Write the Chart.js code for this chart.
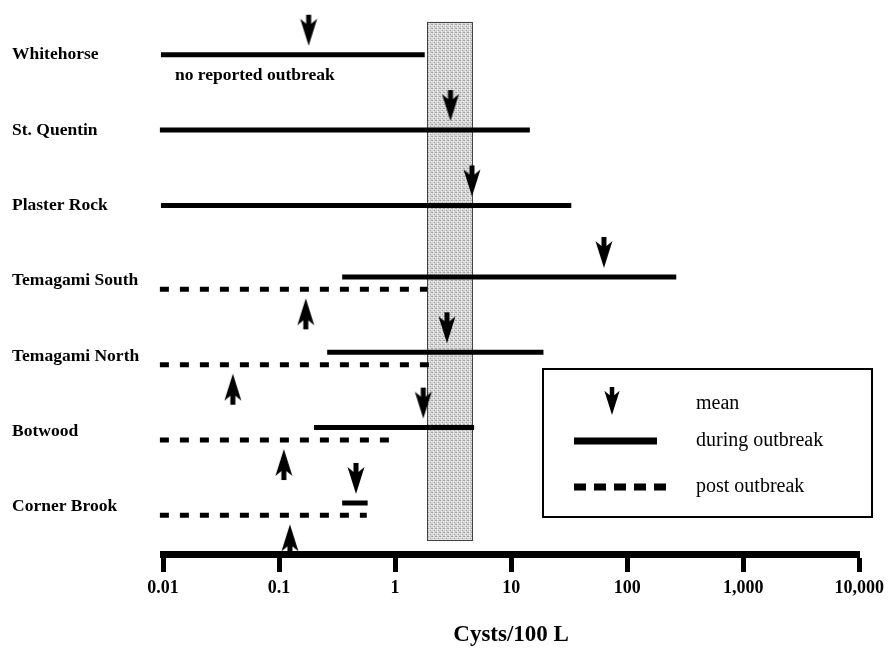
<!DOCTYPE html>
<html>
<head>
<meta charset="utf-8">
<script src="https://cdn.jsdelivr.net/npm/chart.js"></script>
<style>
  html, body { margin: 0; padding: 0; background: #fff; }
</style>
</head>
<body>
<canvas id="cystChart" width="890" height="653"></canvas>
<script type="text/javascript">

// sites, top to bottom
const sites = ['Whitehorse', 'St. Quentin', 'Plaster Rock', 'Temagami South', 'Temagami North', 'Botwood', 'Corner Brook'];

// during outbreak range and mean (cysts/100 L)
const duringLow  = [0.0096, 0.0094, 0.0096, 0.35, 0.26, 0.20, 0.35];
const duringHigh = [1.8, 14.5, 33, 265, 19, 4.8, 0.58];
const duringMean = [0.18, 3.0, 4.6, 63, 2.8, 1.75, 0.46];

// post outbreak range and mean
const postLow  = [null, null, null, 0.0094, 0.0094, 0.0094, 0.0094];
const postHigh = [null, null, null, 1.9, 2.4, 0.93, 0.57];
const postMean = [null, null, null, 0.17, 0.04, 0.11, 0.124];

const notes = ['no reported outbreak', null, null, null, null, null, null];

// shaded band
const bandRange = [1.9, 4.6];

// x axis
const tickVals = [0.01, 0.1, 1, 10, 100, 1000, 10000];
const tickLabels = ['0.01', '0.1', '1', '10', '100', '1,000', '10,000'];

const legendLabels = ['mean', 'during outbreak', 'post outbreak'];

const SERIF = '"Liberation Serif", "Times New Roman", serif';
const ARROW_LEN = 31;
const ARROW_GAP = 9;
const SOLID_SHIFT = -0.05;   // solid line sits a little above the row when a dashed line is there
const DASH_SHIFT = 0.115;

function solidShift(i) { return postLow[i] == null ? 0 : SOLID_SHIFT; }

function drawArrow(g, x, tipY, dir, s) {
    s = s || 1;
    const p = (dx, dy) => [x + dx * s, tipY - dir * dy * s];
    const pts = [p(0, 0), p(-8.5, 27), p(-2.5, 22), p(-2.5, 31), p(2.5, 31), p(2.5, 22), p(8.5, 27)];
    g.beginPath();
    g.moveTo(pts[0][0], pts[0][1]);
    for (let k = 1; k < pts.length; k++) g.lineTo(pts[k][0], pts[k][1]);
    g.closePath();
    g.fillStyle = '#000';
    g.fill();
}

// arrow image, centred on the line it points at
function makeArrow(dir) {
    const c = document.createElement('canvas');
    const h = 2 * (ARROW_LEN + ARROW_GAP) + 2;
    c.width = 20;
    c.height = h;
    drawArrow(c.getContext('2d'), 10, h / 2 - dir * ARROW_GAP, dir);
    return c;
}

function rangePoints(lo, hi, shift) {
    const pts = [];
    sites.forEach((s, i) => {
        if (lo[i] == null) return;
        const y = i + shift(i);
        pts.push({x: lo[i], y: y}, {x: hi[i], y: y}, {x: hi[i], y: null});
    });
    return pts;
}

function meanPoints(mean, shift) {
    const pts = [];
    sites.forEach((s, i) => {
        if (mean[i] == null) return;
        pts.push({x: mean[i], y: i + shift(i)});
    });
    return pts;
}

function bandPattern() {
    const c = document.createElement('canvas');
    c.width = 4; c.height = 4;
    const g = c.getContext('2d');
    g.fillStyle = '#d4d4d4'; g.fillRect(0, 0, 4, 4);
    g.fillStyle = '#a4a4a4';
    g.fillRect(0, 0, 1, 1); g.fillRect(2, 2, 1, 1); g.fillRect(3, 0, 1, 1);
    g.fillStyle = '#efefef';
    g.fillRect(1, 3, 1, 1); g.fillRect(3, 1, 1, 1); g.fillRect(1, 1, 1, 1);
    return c;
}

const bandPlugin = {
    id: 'band',
    beforeDatasetsDraw(chart) {
        const {ctx, scales: {x, y}} = chart;
        const x1 = x.getPixelForValue(bandRange[0]);
        const x2 = x.getPixelForValue(bandRange[1]);
        const y1 = y.getPixelForValue(-0.44);
        const y2 = y.getPixelForValue(6.44);
        ctx.save();
        ctx.fillStyle = ctx.createPattern(bandPattern(), 'repeat');
        ctx.fillRect(x1, y1, x2 - x1, y2 - y1);
        ctx.strokeStyle = '#444';
        ctx.lineWidth = 1;
        ctx.strokeRect(Math.round(x1) + 0.5, Math.round(y1) + 0.5, Math.round(x2 - x1), Math.round(y2 - y1));
        ctx.restore();
    }
};

const notePlugin = {
    id: 'notes',
    afterDatasetsDraw(chart) {
        const {ctx, scales: {x, y}} = chart;
        ctx.save();
        ctx.font = 'bold 17.5px ' + SERIF;
        ctx.fillStyle = '#000';
        ctx.textBaseline = 'middle';
        notes.forEach((n, i) => {
            if (!n) return;
            ctx.fillText(n, x.getPixelForValue(duringLow[i]) + 14, y.getPixelForValue(i) + 21);
        });
        ctx.restore();
    }
};

const legendPlugin = {
    id: 'boxLegend',
    afterDraw(chart) {
        const ctx = chart.ctx;
        const bx = 543, by = 369, bw = 329, bh = 148;
        ctx.save();
        ctx.strokeStyle = '#000';
        ctx.lineWidth = 2;
        ctx.strokeRect(bx, by, bw, bh);
        drawArrow(ctx, 612, 415, 1, 0.9);
        ctx.lineWidth = 7;
        ctx.beginPath(); ctx.moveTo(574, 441); ctx.lineTo(657, 441); ctx.stroke();
        ctx.setLineDash([12, 8]);
        ctx.beginPath(); ctx.moveTo(574, 487); ctx.lineTo(666, 487); ctx.stroke();
        ctx.setLineDash([]);
        ctx.font = '20px ' + SERIF;
        ctx.fillStyle = '#000';
        ctx.textBaseline = 'middle';
        ctx.fillText(legendLabels[0], 696, 404);
        ctx.fillText(legendLabels[1], 696, 441);
        ctx.fillText(legendLabels[2], 696, 487);
        ctx.restore();
    }
};

const ctx = document.getElementById('cystChart').getContext('2d');
const myChart = new Chart(ctx, {
    type: 'line',
    data: {
        datasets: [{
            label: 'during outbreak',
            data: rangePoints(duringLow, duringHigh, solidShift),
            borderColor: '#000',
            borderWidth: 5,
            borderCapStyle: 'butt',
            pointRadius: 0,
            spanGaps: false,
            clip: false,
        }, {
            label: 'post outbreak',
            data: rangePoints(postLow, postHigh, () => DASH_SHIFT),
            borderColor: '#000',
            borderWidth: 5,
            borderDash: [9, 11],
            borderCapStyle: 'butt',
            pointRadius: 0,
            spanGaps: false,
            clip: false,
        }, {
            label: 'mean during',
            data: meanPoints(duringMean, solidShift),
            showLine: false,
            pointStyle: makeArrow(1),
            pointRadius: 5,
            pointHoverRadius: 5,
            clip: false,
        }, {
            label: 'mean post',
            data: meanPoints(postMean, () => DASH_SHIFT),
            showLine: false,
            pointStyle: makeArrow(-1),
            pointRadius: 5,
            pointHoverRadius: 5,
            clip: false,
        }],
    },
    options: {
        responsive: false,
        animation: false,
        events: [],
        layout: { padding: { left: 12, right: 29, top: 10, bottom: 0 } },
        plugins: {
            legend: { display: false },
            tooltip: { enabled: false },
        },
        scales: {
            x: {
                type: 'logarithmic',
                position: 'bottom',
                min: 0.01,
                max: 10000,
                afterBuildTicks(scale) {
                    scale.ticks = tickVals.map(v => ({value: v}));
                },
                afterFit(scale) { scale.height = 99; },
                ticks: {
                    autoSkip: false,
                    maxRotation: 0,
                    padding: 6,
                    color: '#000',
                    font: { family: SERIF, size: 18, weight: 'bold' },
                    callback: (v, i) => tickLabels[i],
                },
                grid: {
                    drawOnChartArea: false,
                    drawTicks: true,
                    tickLength: 18,
                    tickWidth: 5,
                    color: '#000',
                },
                border: { display: true, width: 7, color: '#000' },
                title: {
                    display: true,
                    text: 'Cysts/100 L',
                    color: '#000',
                    font: { family: SERIF, size: 23, weight: 'bold' },
                    padding: { top: 0, bottom: 4 },
                },
            },
            y: {
                type: 'linear',
                reverse: true,
                min: -0.587,
                max: 6.628,
                afterBuildTicks(scale) {
                    scale.ticks = sites.map((s, i) => ({value: i}));
                },
                afterFit(scale) { scale.width = 151; },
                ticks: {
                    crossAlign: 'far',
                    padding: 0,
                    color: '#000',
                    font: { family: SERIF, size: 17.5, weight: 'bold' },
                    callback: (v) => sites[v],
                },
                grid: { display: false },
                border: { display: false },
            },
        },
    },
    plugins: [bandPlugin, notePlugin, legendPlugin],
});
</script>
</body>
</html>
